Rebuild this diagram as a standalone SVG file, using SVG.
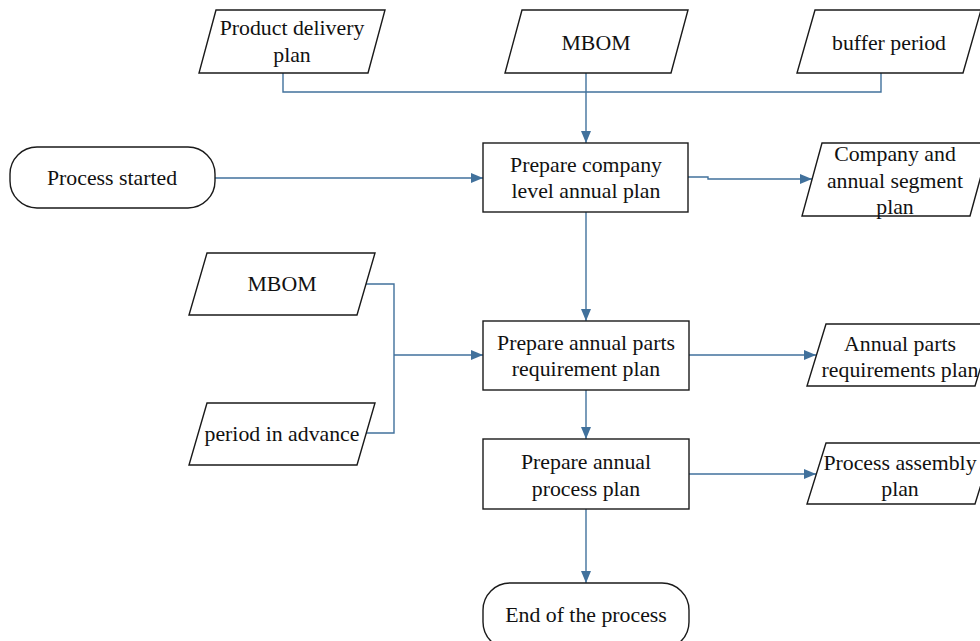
<svg xmlns="http://www.w3.org/2000/svg" width="980" height="641" viewBox="0 0 980 641">
  <defs>
    <marker id="arrow" markerWidth="12" markerHeight="10" refX="12" refY="5" orient="auto" markerUnits="userSpaceOnUse">
      <path d="M0,0 L12,5 L0,10 Z" fill="#41719c"/>
    </marker>
    <style>
      .shape { fill: #ffffff; stroke: #1a1a1a; stroke-width: 1.4; }
      .conn { fill: none; stroke: #41719c; stroke-width: 1.4; }
      .arrow { marker-end: url(#arrow); }
      text { font-family: "Liberation Serif", "Times New Roman", serif; font-size: 21.8px; fill: #111; text-anchor: middle; }
    </style>
  </defs>
  <rect width="980" height="641" fill="#ffffff"/>

  <!-- connectors -->
  <g id="connectors">
    <path class="conn" d="M283,73 V92 H881 V73"/>
    <path class="conn arrow" d="M586,73 V143"/>
    <path class="conn arrow" d="M215,178 H483"/>
    <path class="conn arrow" d="M688,177 H708 V179 H812"/>
    <path class="conn arrow" d="M586,212 V321"/>
    <path class="conn" d="M366,284 H394 V433 H366"/>
    <path class="conn arrow" d="M394,355 H483"/>
    <path class="conn arrow" d="M689,355 H816"/>
    <path class="conn arrow" d="M586,390 V439"/>
    <path class="conn arrow" d="M689,474 H816"/>
    <path class="conn arrow" d="M586,509 V583"/>
  </g>

  <!-- input data -->
  <g id="product-delivery-plan">
    <polygon class="shape" points="216,10 385,10 368,73 199,73"/>
    <text x="292" y="35">Product delivery</text>
    <text x="292" y="62">plan</text>
  </g>
  <g id="mbom-top">
    <polygon class="shape" points="522,10 688,10 671,73 505,73"/>
    <text x="596" y="50">MBOM</text>
  </g>
  <g id="buffer-period">
    <polygon class="shape" points="815,10 981,10 963,73 797,73"/>
    <text x="889" y="50">buffer period</text>
  </g>

  <!-- start -->
  <g id="process-started">
    <rect class="shape" x="10" y="147" width="205" height="61" rx="27" ry="27"/>
    <text x="112" y="185">Process started</text>
  </g>

  <!-- company level plan -->
  <g id="company-plan">
    <rect class="shape" x="483" y="143" width="205" height="69"/>
    <text x="586" y="172">Prepare company</text>
    <text x="586" y="198">level annual plan</text>
  </g>
  <g id="company-segment-plan">
    <polygon class="shape" points="822,143 990,143 970,216 802,216"/>
    <text x="895" y="161">Company and</text>
    <text x="895" y="188">annual segment</text>
    <text x="895" y="214">plan</text>
  </g>

  <!-- parts requirement -->
  <g id="mbom-left">
    <polygon class="shape" points="207,253 375,253 357,315 189,315"/>
    <text x="282" y="291">MBOM</text>
  </g>
  <g id="period-in-advance">
    <polygon class="shape" points="207,403 375,403 357,465 189,465"/>
    <text x="282" y="441">period in advance</text>
  </g>
  <g id="parts-plan">
    <rect class="shape" x="483" y="321" width="206" height="69"/>
    <text x="586" y="350">Prepare annual parts</text>
    <text x="586" y="376">requirement plan</text>
  </g>
  <g id="parts-requirements-plan">
    <polygon class="shape" points="826,324 994,324 975,386 807,386"/>
    <text x="900" y="351">Annual parts</text>
    <text x="900" y="377">requirements plan</text>
  </g>

  <!-- process plan -->
  <g id="process-plan">
    <rect class="shape" x="483" y="439" width="206" height="70"/>
    <text x="586" y="469">Prepare annual</text>
    <text x="586" y="496">process plan</text>
  </g>
  <g id="process-assembly-plan">
    <polygon class="shape" points="826,443 994,443 975,504 807,504"/>
    <text x="900" y="470">Process assembly</text>
    <text x="900" y="496">plan</text>
  </g>

  <!-- end -->
  <g id="process-end">
    <rect class="shape" x="483" y="583" width="206" height="66" rx="27" ry="27"/>
    <text x="586" y="622">End of the process</text>
  </g>
</svg>
